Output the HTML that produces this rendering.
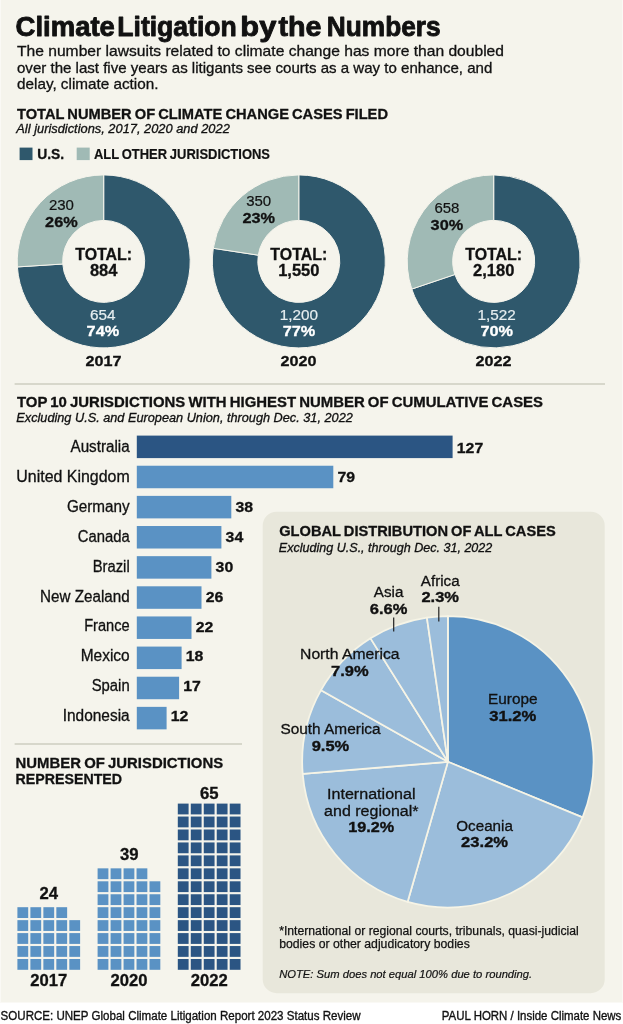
<!DOCTYPE html>
<html lang="en"><head><meta charset="utf-8"><title>Climate Litigation by the Numbers</title>
<style>
html,body{margin:0;padding:0;background:#fff}
svg{display:block}
text{font-family:"Liberation Sans",Arial,Helvetica,sans-serif}
</style></head><body>
<svg width="623" height="1024" viewBox="0 0 623 1024" fill="#111">
<rect x="0" y="0" width="623" height="1024" fill="#ffffff"/>
<rect x="0" y="0" width="623" height="1002.5" fill="#f5f4ec"/>
<rect x="0" y="0" width="1" height="1002.5" fill="#faf9f5"/>
<rect x="622" y="0" width="1" height="1002.5" fill="#faf9f5"/>
<text y="36" font-size="28" font-weight="700" stroke="#111" stroke-width="0.9" stroke-linejoin="round"><tspan x="15.6" textLength="99.3" lengthAdjust="spacingAndGlyphs">Climate</tspan> <tspan x="117.3" textLength="119.5" lengthAdjust="spacingAndGlyphs">Litigation</tspan> <tspan x="240.3" textLength="36" lengthAdjust="spacingAndGlyphs">by</tspan> <tspan x="278.4" textLength="43" lengthAdjust="spacingAndGlyphs">the</tspan> <tspan x="326.8" textLength="113.8" lengthAdjust="spacingAndGlyphs">Numbers</tspan></text>
<text x="17" y="56.3" font-size="15" textLength="487" lengthAdjust="spacingAndGlyphs" stroke="#111" stroke-width="0.3">The number lawsuits related to climate change has more than doubled</text>
<text x="17" y="72.7" font-size="15" textLength="475.3" lengthAdjust="spacingAndGlyphs" stroke="#111" stroke-width="0.3">over the last five years as litigants see courts as a way to enhance, and</text>
<text x="17" y="89" font-size="15" textLength="141.5" lengthAdjust="spacingAndGlyphs" stroke="#111" stroke-width="0.3">delay, climate action.</text>
<text x="17" y="118.6" font-size="15" font-weight="700" textLength="371" lengthAdjust="spacingAndGlyphs" word-spacing="-1" stroke="#111" stroke-width="0.3">TOTAL NUMBER OF CLIMATE CHANGE CASES FILED</text>
<text x="16.3" y="132.8" font-size="12.2" font-style="italic" textLength="213.5" lengthAdjust="spacingAndGlyphs" stroke="#111" stroke-width="0.3">All jurisdictions, 2017, 2020 and 2022</text>
<rect x="19.6" y="147.6" width="12.9" height="12.5" fill="#2f586c"/>
<text x="37.2" y="159" font-size="15" font-weight="700" textLength="27" lengthAdjust="spacingAndGlyphs" stroke="#111" stroke-width="0.3">U.S.</text>
<rect x="76.7" y="147.6" width="13" height="12.5" fill="#a0bab5"/>
<text x="94" y="159" font-size="15" font-weight="700" textLength="176" lengthAdjust="spacingAndGlyphs" word-spacing="-1" stroke="#111" stroke-width="0.2">ALL OTHER JURISDICTIONS</text>
<path d="M103.70,174.90A86.5,86.5 0 1 1 17.38,266.93L62.78,264.02A41,41 0 1 0 103.70,220.40Z" fill="#2f586c" stroke="#f5f4ec" stroke-width="1" stroke-linejoin="round"/>
<path d="M17.38,266.93A86.5,86.5 0 0 1 103.70,174.90L103.70,220.40A41,41 0 0 0 62.78,264.02Z" fill="#a0bab5" stroke="#f5f4ec" stroke-width="1" stroke-linejoin="round"/>
<text x="61.4" y="209.7" font-size="15" text-anchor="middle" stroke="#111" stroke-width="0.2">230</text>
<text x="61.4" y="226.6" font-size="15" font-weight="700" text-anchor="middle" textLength="32.6" lengthAdjust="spacingAndGlyphs" stroke="#111" stroke-width="0.3">26%</text>
<text x="103.7" y="259.7" font-size="16.5" font-weight="700" text-anchor="middle" textLength="57" lengthAdjust="spacingAndGlyphs" stroke="#111" stroke-width="0.3">TOTAL:</text>
<text x="103.7" y="276.4" font-size="16.5" font-weight="700" text-anchor="middle" stroke="#111" stroke-width="0.3">884</text>
<text x="102.7" y="319.5" font-size="15.3" text-anchor="middle" fill="#e6eef0" stroke="#e6eef0" stroke-width="0.2">654</text>
<text x="102.9" y="336.1" font-size="15" font-weight="700" text-anchor="middle" fill="#ffffff" textLength="32.6" lengthAdjust="spacingAndGlyphs" stroke="#ffffff" stroke-width="0.3">74%</text>
<text x="103.4" y="366" font-size="15.5" font-weight="700" text-anchor="middle" textLength="36" lengthAdjust="spacingAndGlyphs" stroke="#111" stroke-width="0.3">2017</text>
<path d="M298.80,174.90A86.5,86.5 0 1 1 213.30,248.30L258.27,255.19A41,41 0 1 0 298.80,220.40Z" fill="#2f586c" stroke="#f5f4ec" stroke-width="1" stroke-linejoin="round"/>
<path d="M213.30,248.30A86.5,86.5 0 0 1 298.80,174.90L298.80,220.40A41,41 0 0 0 258.27,255.19Z" fill="#a0bab5" stroke="#f5f4ec" stroke-width="1" stroke-linejoin="round"/>
<text x="258.7" y="206.4" font-size="15" text-anchor="middle" stroke="#111" stroke-width="0.2">350</text>
<text x="258.7" y="223.3" font-size="15" font-weight="700" text-anchor="middle" textLength="32.6" lengthAdjust="spacingAndGlyphs" stroke="#111" stroke-width="0.3">23%</text>
<text x="298.8" y="259.7" font-size="16.5" font-weight="700" text-anchor="middle" textLength="57" lengthAdjust="spacingAndGlyphs" stroke="#111" stroke-width="0.3">TOTAL:</text>
<text x="298.8" y="276.4" font-size="16.5" font-weight="700" text-anchor="middle" stroke="#111" stroke-width="0.3">1,550</text>
<text x="298.8" y="319.5" font-size="15.3" text-anchor="middle" fill="#e6eef0" stroke="#e6eef0" stroke-width="0.2">1,200</text>
<text x="299.0" y="336.1" font-size="15" font-weight="700" text-anchor="middle" fill="#ffffff" textLength="32.6" lengthAdjust="spacingAndGlyphs" stroke="#ffffff" stroke-width="0.3">77%</text>
<text x="298.5" y="366" font-size="15.5" font-weight="700" text-anchor="middle" textLength="36" lengthAdjust="spacingAndGlyphs" stroke="#111" stroke-width="0.3">2020</text>
<path d="M493.70,174.90A86.5,86.5 0 1 1 411.75,289.08L454.86,274.52A41,41 0 1 0 493.70,220.40Z" fill="#2f586c" stroke="#f5f4ec" stroke-width="1" stroke-linejoin="round"/>
<path d="M411.75,289.08A86.5,86.5 0 0 1 493.70,174.90L493.70,220.40A41,41 0 0 0 454.86,274.52Z" fill="#a0bab5" stroke="#f5f4ec" stroke-width="1" stroke-linejoin="round"/>
<text x="446.9" y="212.7" font-size="15" text-anchor="middle" stroke="#111" stroke-width="0.2">658</text>
<text x="446.9" y="229.6" font-size="15" font-weight="700" text-anchor="middle" textLength="32.6" lengthAdjust="spacingAndGlyphs" stroke="#111" stroke-width="0.3">30%</text>
<text x="493.7" y="259.7" font-size="16.5" font-weight="700" text-anchor="middle" textLength="57" lengthAdjust="spacingAndGlyphs" stroke="#111" stroke-width="0.3">TOTAL:</text>
<text x="493.7" y="276.4" font-size="16.5" font-weight="700" text-anchor="middle" stroke="#111" stroke-width="0.3">2,180</text>
<text x="496.59999999999997" y="319.5" font-size="15.3" text-anchor="middle" fill="#e6eef0" stroke="#e6eef0" stroke-width="0.2">1,522</text>
<text x="496.79999999999995" y="336.1" font-size="15" font-weight="700" text-anchor="middle" fill="#ffffff" textLength="32.6" lengthAdjust="spacingAndGlyphs" stroke="#ffffff" stroke-width="0.3">70%</text>
<text x="493.4" y="366" font-size="15.5" font-weight="700" text-anchor="middle" textLength="36" lengthAdjust="spacingAndGlyphs" stroke="#111" stroke-width="0.3">2022</text>
<rect x="14.6" y="383.1" width="590.4" height="1.8" fill="#d4d4c8"/>
<text x="17" y="407.4" font-size="15" font-weight="700" textLength="526" lengthAdjust="spacingAndGlyphs" word-spacing="-1" stroke="#111" stroke-width="0.3">TOP 10 JURISDICTIONS WITH HIGHEST NUMBER OF CUMULATIVE CASES</text>
<text x="16.3" y="422.2" font-size="12.2" font-style="italic" textLength="336.5" lengthAdjust="spacingAndGlyphs" stroke="#111" stroke-width="0.3">Excluding U.S. and European Union, through Dec. 31, 2022</text>
<rect x="136.8" y="435.6" width="315.8" height="22.5" fill="#2b5583"/>
<text x="129.7" y="452.2" font-size="15.8" text-anchor="end" textLength="59.2" lengthAdjust="spacingAndGlyphs" stroke="#111" stroke-width="0.3">Australia</text>
<text x="456.8" y="452.5" font-size="14.6" font-weight="700" textLength="26.400000000000002" lengthAdjust="spacingAndGlyphs" stroke="#111" stroke-width="0.3">127</text>
<rect x="136.8" y="465.74" width="196.5" height="22.5" fill="#5a92c4"/>
<text x="129.7" y="482.1" font-size="15.8" text-anchor="end" textLength="113.4" lengthAdjust="spacingAndGlyphs" stroke="#111" stroke-width="0.3">United Kingdom</text>
<text x="337.5" y="482.3" font-size="14.6" font-weight="700" textLength="17.6" lengthAdjust="spacingAndGlyphs" stroke="#111" stroke-width="0.3">79</text>
<rect x="136.8" y="495.88" width="94.5" height="22.5" fill="#5a92c4"/>
<text x="129.7" y="511.9" font-size="15.8" text-anchor="end" textLength="62.8" lengthAdjust="spacingAndGlyphs" stroke="#111" stroke-width="0.3">Germany</text>
<text x="235.5" y="512.2" font-size="14.6" font-weight="700" textLength="17.6" lengthAdjust="spacingAndGlyphs" stroke="#111" stroke-width="0.3">38</text>
<rect x="136.8" y="526.02" width="84.6" height="22.5" fill="#5a92c4"/>
<text x="129.7" y="541.8" font-size="15.8" text-anchor="end" textLength="52" lengthAdjust="spacingAndGlyphs" stroke="#111" stroke-width="0.3">Canada</text>
<text x="225.6" y="542.0" font-size="14.6" font-weight="700" textLength="17.6" lengthAdjust="spacingAndGlyphs" stroke="#111" stroke-width="0.3">34</text>
<rect x="136.8" y="556.16" width="74.6" height="22.5" fill="#5a92c4"/>
<text x="129.7" y="571.6" font-size="15.8" text-anchor="end" textLength="37" lengthAdjust="spacingAndGlyphs" stroke="#111" stroke-width="0.3">Brazil</text>
<text x="215.6" y="571.9" font-size="14.6" font-weight="700" textLength="17.6" lengthAdjust="spacingAndGlyphs" stroke="#111" stroke-width="0.3">30</text>
<rect x="136.8" y="586.3" width="64.7" height="22.5" fill="#5a92c4"/>
<text x="129.7" y="601.5" font-size="15.8" text-anchor="end" textLength="89.6" lengthAdjust="spacingAndGlyphs" stroke="#111" stroke-width="0.3">New Zealand</text>
<text x="205.7" y="601.7" font-size="14.6" font-weight="700" textLength="17.6" lengthAdjust="spacingAndGlyphs" stroke="#111" stroke-width="0.3">26</text>
<rect x="136.8" y="616.44" width="54.7" height="22.5" fill="#5a92c4"/>
<text x="129.7" y="631.4" font-size="15.8" text-anchor="end" textLength="45.5" lengthAdjust="spacingAndGlyphs" stroke="#111" stroke-width="0.3">France</text>
<text x="195.7" y="631.5" font-size="14.6" font-weight="700" textLength="17.6" lengthAdjust="spacingAndGlyphs" stroke="#111" stroke-width="0.3">22</text>
<rect x="136.8" y="646.58" width="44.8" height="22.5" fill="#5a92c4"/>
<text x="129.7" y="661.2" font-size="15.8" text-anchor="end" textLength="49" lengthAdjust="spacingAndGlyphs" stroke="#111" stroke-width="0.3">Mexico</text>
<text x="185.8" y="661.4" font-size="14.6" font-weight="700" textLength="17.6" lengthAdjust="spacingAndGlyphs" stroke="#111" stroke-width="0.3">18</text>
<rect x="136.8" y="676.72" width="42.3" height="22.5" fill="#5a92c4"/>
<text x="129.7" y="691.1" font-size="15.8" text-anchor="end" textLength="38" lengthAdjust="spacingAndGlyphs" stroke="#111" stroke-width="0.3">Spain</text>
<text x="183.3" y="691.2" font-size="14.6" font-weight="700" textLength="17.6" lengthAdjust="spacingAndGlyphs" stroke="#111" stroke-width="0.3">17</text>
<rect x="136.8" y="706.86" width="29.8" height="22.5" fill="#5a92c4"/>
<text x="129.7" y="720.9" font-size="15.8" text-anchor="end" textLength="67" lengthAdjust="spacingAndGlyphs" stroke="#111" stroke-width="0.3">Indonesia</text>
<text x="170.8" y="721.1" font-size="14.6" font-weight="700" textLength="17.6" lengthAdjust="spacingAndGlyphs" stroke="#111" stroke-width="0.3">12</text>
<rect x="262.7" y="511.7" width="342" height="481.5" fill="#e8e7db" rx="14"/>
<text x="279.2" y="536.2" font-size="15" font-weight="700" textLength="276.5" lengthAdjust="spacingAndGlyphs" word-spacing="-1" stroke="#111" stroke-width="0.3">GLOBAL DISTRIBUTION OF ALL CASES</text>
<text x="278.8" y="551.8" font-size="12.2" font-style="italic" textLength="213.5" lengthAdjust="spacingAndGlyphs" stroke="#111" stroke-width="0.3">Excluding U.S., through Dec. 31, 2022</text>
<path d="M447.9,761.8L447.90,616.10A145.7,145.7 0 0 1 582.57,817.40Z" fill="#5a92c4" stroke="#f6f4e6" stroke-width="1.75" stroke-linejoin="round"/>
<path d="M447.9,761.8L582.57,817.40A145.7,145.7 0 0 1 407.65,901.83Z" fill="#9bbddb" stroke="#f6f4e6" stroke-width="1.75" stroke-linejoin="round"/>
<path d="M447.9,761.8L407.65,901.83A145.7,145.7 0 0 1 302.71,773.93Z" fill="#9bbddb" stroke="#f6f4e6" stroke-width="1.75" stroke-linejoin="round"/>
<path d="M447.9,761.8L302.71,773.93A145.7,145.7 0 0 1 321.04,690.14Z" fill="#9bbddb" stroke="#f6f4e6" stroke-width="1.75" stroke-linejoin="round"/>
<path d="M447.9,761.8L321.04,690.14A145.7,145.7 0 0 1 370.54,638.34Z" fill="#9bbddb" stroke="#f6f4e6" stroke-width="1.75" stroke-linejoin="round"/>
<path d="M447.9,761.8L370.54,638.34A145.7,145.7 0 0 1 426.90,617.62Z" fill="#9bbddb" stroke="#f6f4e6" stroke-width="1.75" stroke-linejoin="round"/>
<path d="M447.9,761.8L426.90,617.62A145.7,145.7 0 0 1 447.90,616.10Z" fill="#9bbddb" stroke="#f6f4e6" stroke-width="1.75" stroke-linejoin="round"/>
<text x="512.8" y="704.1" font-size="15.2" text-anchor="middle" textLength="49.5" lengthAdjust="spacingAndGlyphs" stroke="#111" stroke-width="0.3">Europe</text>
<text x="512.8" y="720.7" font-size="14.9" font-weight="700" text-anchor="middle" textLength="47.2" lengthAdjust="spacingAndGlyphs" stroke="#111" stroke-width="0.35">31.2%</text>
<text x="484.6" y="830.7" font-size="15.2" text-anchor="middle" textLength="56.6" lengthAdjust="spacingAndGlyphs" stroke="#111" stroke-width="0.3">Oceania</text>
<text x="484.6" y="847.3" font-size="14.9" font-weight="700" text-anchor="middle" textLength="47" lengthAdjust="spacingAndGlyphs" stroke="#111" stroke-width="0.35">23.2%</text>
<text x="371.3" y="799.4" font-size="15.2" text-anchor="middle" textLength="88.6" lengthAdjust="spacingAndGlyphs" stroke="#111" stroke-width="0.3">International</text>
<text x="371.3" y="816" font-size="15.2" text-anchor="middle" textLength="94.4" lengthAdjust="spacingAndGlyphs" stroke="#111" stroke-width="0.3">and regional*</text>
<text x="371.3" y="832" font-size="14.9" font-weight="700" text-anchor="middle" textLength="46" lengthAdjust="spacingAndGlyphs" stroke="#111" stroke-width="0.35">19.2%</text>
<text x="330.5" y="734.2" font-size="15.2" text-anchor="middle" textLength="100.2" lengthAdjust="spacingAndGlyphs" stroke="#111" stroke-width="0.3">South America</text>
<text x="330.5" y="750.8" font-size="14.9" font-weight="700" text-anchor="middle" textLength="37.6" lengthAdjust="spacingAndGlyphs" stroke="#111" stroke-width="0.35">9.5%</text>
<text x="349.8" y="659.4" font-size="15.2" text-anchor="middle" textLength="99.5" lengthAdjust="spacingAndGlyphs" stroke="#111" stroke-width="0.3">North America</text>
<text x="349.8" y="676.0" font-size="14.9" font-weight="700" text-anchor="middle" textLength="37.6" lengthAdjust="spacingAndGlyphs" stroke="#111" stroke-width="0.35">7.9%</text>
<text x="388.6" y="596.8" font-size="15.2" text-anchor="middle" stroke="#111" stroke-width="0.3">Asia</text>
<text x="388.6" y="614.0" font-size="14.9" font-weight="700" text-anchor="middle" textLength="37.6" lengthAdjust="spacingAndGlyphs" stroke="#111" stroke-width="0.35">6.6%</text>
<text x="440.2" y="585.6" font-size="15.2" text-anchor="middle" textLength="38.8" lengthAdjust="spacingAndGlyphs" stroke="#111" stroke-width="0.3">Africa</text>
<text x="440.2" y="602.0" font-size="14.9" font-weight="700" text-anchor="middle" textLength="37.6" lengthAdjust="spacingAndGlyphs" stroke="#111" stroke-width="0.35">2.3%</text>
<path d="M393.7,617.5V631.5M438.8,606.8V621.6" stroke="#222" stroke-width="1.2" fill="none"/>
<text x="279.2" y="934.5" font-size="12.5" textLength="299.6" lengthAdjust="spacingAndGlyphs" stroke="#111" stroke-width="0.25">*International or regional courts, tribunals, quasi-judicial</text>
<text x="279.2" y="947.9" font-size="12.5" textLength="190.6" lengthAdjust="spacingAndGlyphs" stroke="#111" stroke-width="0.25">bodies or other adjudicatory bodies</text>
<text x="279.2" y="977.5" font-size="11.8" font-style="italic" textLength="253" lengthAdjust="spacingAndGlyphs" stroke="#111" stroke-width="0.2">NOTE: Sum does not equal 100% due to rounding.</text>
<rect x="14.6" y="743.1" width="227.4" height="1.8" fill="#d4d4c8"/>
<text x="15.6" y="767.5" font-size="15" font-weight="700" textLength="207.5" lengthAdjust="spacingAndGlyphs" word-spacing="-1" stroke="#111" stroke-width="0.3">NUMBER OF JURISDICTIONS</text>
<text x="15.6" y="784.2" font-size="15" font-weight="700" textLength="106.5" lengthAdjust="spacingAndGlyphs" stroke="#111" stroke-width="0.3">REPRESENTED</text>
<rect x="17.40" y="959.00" width="10.8" height="10.8" fill="#5a92c4"/>
<rect x="30.38" y="959.00" width="10.8" height="10.8" fill="#5a92c4"/>
<rect x="43.36" y="959.00" width="10.8" height="10.8" fill="#5a92c4"/>
<rect x="56.34" y="959.00" width="10.8" height="10.8" fill="#5a92c4"/>
<rect x="69.32" y="959.00" width="10.8" height="10.8" fill="#5a92c4"/>
<rect x="17.40" y="946.05" width="10.8" height="10.8" fill="#5a92c4"/>
<rect x="30.38" y="946.05" width="10.8" height="10.8" fill="#5a92c4"/>
<rect x="43.36" y="946.05" width="10.8" height="10.8" fill="#5a92c4"/>
<rect x="56.34" y="946.05" width="10.8" height="10.8" fill="#5a92c4"/>
<rect x="69.32" y="946.05" width="10.8" height="10.8" fill="#5a92c4"/>
<rect x="17.40" y="933.10" width="10.8" height="10.8" fill="#5a92c4"/>
<rect x="30.38" y="933.10" width="10.8" height="10.8" fill="#5a92c4"/>
<rect x="43.36" y="933.10" width="10.8" height="10.8" fill="#5a92c4"/>
<rect x="56.34" y="933.10" width="10.8" height="10.8" fill="#5a92c4"/>
<rect x="69.32" y="933.10" width="10.8" height="10.8" fill="#5a92c4"/>
<rect x="17.40" y="920.15" width="10.8" height="10.8" fill="#5a92c4"/>
<rect x="30.38" y="920.15" width="10.8" height="10.8" fill="#5a92c4"/>
<rect x="43.36" y="920.15" width="10.8" height="10.8" fill="#5a92c4"/>
<rect x="56.34" y="920.15" width="10.8" height="10.8" fill="#5a92c4"/>
<rect x="69.32" y="920.15" width="10.8" height="10.8" fill="#5a92c4"/>
<rect x="17.40" y="907.20" width="10.8" height="10.8" fill="#5a92c4"/>
<rect x="30.38" y="907.20" width="10.8" height="10.8" fill="#5a92c4"/>
<rect x="43.36" y="907.20" width="10.8" height="10.8" fill="#5a92c4"/>
<rect x="56.34" y="907.20" width="10.8" height="10.8" fill="#5a92c4"/>
<rect x="97.60" y="959.00" width="10.8" height="10.8" fill="#5a92c4"/>
<rect x="110.58" y="959.00" width="10.8" height="10.8" fill="#5a92c4"/>
<rect x="123.56" y="959.00" width="10.8" height="10.8" fill="#5a92c4"/>
<rect x="136.54" y="959.00" width="10.8" height="10.8" fill="#5a92c4"/>
<rect x="149.52" y="959.00" width="10.8" height="10.8" fill="#5a92c4"/>
<rect x="97.60" y="946.05" width="10.8" height="10.8" fill="#5a92c4"/>
<rect x="110.58" y="946.05" width="10.8" height="10.8" fill="#5a92c4"/>
<rect x="123.56" y="946.05" width="10.8" height="10.8" fill="#5a92c4"/>
<rect x="136.54" y="946.05" width="10.8" height="10.8" fill="#5a92c4"/>
<rect x="149.52" y="946.05" width="10.8" height="10.8" fill="#5a92c4"/>
<rect x="97.60" y="933.10" width="10.8" height="10.8" fill="#5a92c4"/>
<rect x="110.58" y="933.10" width="10.8" height="10.8" fill="#5a92c4"/>
<rect x="123.56" y="933.10" width="10.8" height="10.8" fill="#5a92c4"/>
<rect x="136.54" y="933.10" width="10.8" height="10.8" fill="#5a92c4"/>
<rect x="149.52" y="933.10" width="10.8" height="10.8" fill="#5a92c4"/>
<rect x="97.60" y="920.15" width="10.8" height="10.8" fill="#5a92c4"/>
<rect x="110.58" y="920.15" width="10.8" height="10.8" fill="#5a92c4"/>
<rect x="123.56" y="920.15" width="10.8" height="10.8" fill="#5a92c4"/>
<rect x="136.54" y="920.15" width="10.8" height="10.8" fill="#5a92c4"/>
<rect x="149.52" y="920.15" width="10.8" height="10.8" fill="#5a92c4"/>
<rect x="97.60" y="907.20" width="10.8" height="10.8" fill="#5a92c4"/>
<rect x="110.58" y="907.20" width="10.8" height="10.8" fill="#5a92c4"/>
<rect x="123.56" y="907.20" width="10.8" height="10.8" fill="#5a92c4"/>
<rect x="136.54" y="907.20" width="10.8" height="10.8" fill="#5a92c4"/>
<rect x="149.52" y="907.20" width="10.8" height="10.8" fill="#5a92c4"/>
<rect x="97.60" y="894.25" width="10.8" height="10.8" fill="#5a92c4"/>
<rect x="110.58" y="894.25" width="10.8" height="10.8" fill="#5a92c4"/>
<rect x="123.56" y="894.25" width="10.8" height="10.8" fill="#5a92c4"/>
<rect x="136.54" y="894.25" width="10.8" height="10.8" fill="#5a92c4"/>
<rect x="149.52" y="894.25" width="10.8" height="10.8" fill="#5a92c4"/>
<rect x="97.60" y="881.30" width="10.8" height="10.8" fill="#5a92c4"/>
<rect x="110.58" y="881.30" width="10.8" height="10.8" fill="#5a92c4"/>
<rect x="123.56" y="881.30" width="10.8" height="10.8" fill="#5a92c4"/>
<rect x="136.54" y="881.30" width="10.8" height="10.8" fill="#5a92c4"/>
<rect x="149.52" y="881.30" width="10.8" height="10.8" fill="#5a92c4"/>
<rect x="97.60" y="868.35" width="10.8" height="10.8" fill="#5a92c4"/>
<rect x="110.58" y="868.35" width="10.8" height="10.8" fill="#5a92c4"/>
<rect x="123.56" y="868.35" width="10.8" height="10.8" fill="#5a92c4"/>
<rect x="136.54" y="868.35" width="10.8" height="10.8" fill="#5a92c4"/>
<rect x="177.80" y="959.00" width="10.8" height="10.8" fill="#2b5583"/>
<rect x="190.78" y="959.00" width="10.8" height="10.8" fill="#2b5583"/>
<rect x="203.76" y="959.00" width="10.8" height="10.8" fill="#2b5583"/>
<rect x="216.74" y="959.00" width="10.8" height="10.8" fill="#2b5583"/>
<rect x="229.72" y="959.00" width="10.8" height="10.8" fill="#2b5583"/>
<rect x="177.80" y="946.05" width="10.8" height="10.8" fill="#2b5583"/>
<rect x="190.78" y="946.05" width="10.8" height="10.8" fill="#2b5583"/>
<rect x="203.76" y="946.05" width="10.8" height="10.8" fill="#2b5583"/>
<rect x="216.74" y="946.05" width="10.8" height="10.8" fill="#2b5583"/>
<rect x="229.72" y="946.05" width="10.8" height="10.8" fill="#2b5583"/>
<rect x="177.80" y="933.10" width="10.8" height="10.8" fill="#2b5583"/>
<rect x="190.78" y="933.10" width="10.8" height="10.8" fill="#2b5583"/>
<rect x="203.76" y="933.10" width="10.8" height="10.8" fill="#2b5583"/>
<rect x="216.74" y="933.10" width="10.8" height="10.8" fill="#2b5583"/>
<rect x="229.72" y="933.10" width="10.8" height="10.8" fill="#2b5583"/>
<rect x="177.80" y="920.15" width="10.8" height="10.8" fill="#2b5583"/>
<rect x="190.78" y="920.15" width="10.8" height="10.8" fill="#2b5583"/>
<rect x="203.76" y="920.15" width="10.8" height="10.8" fill="#2b5583"/>
<rect x="216.74" y="920.15" width="10.8" height="10.8" fill="#2b5583"/>
<rect x="229.72" y="920.15" width="10.8" height="10.8" fill="#2b5583"/>
<rect x="177.80" y="907.20" width="10.8" height="10.8" fill="#2b5583"/>
<rect x="190.78" y="907.20" width="10.8" height="10.8" fill="#2b5583"/>
<rect x="203.76" y="907.20" width="10.8" height="10.8" fill="#2b5583"/>
<rect x="216.74" y="907.20" width="10.8" height="10.8" fill="#2b5583"/>
<rect x="229.72" y="907.20" width="10.8" height="10.8" fill="#2b5583"/>
<rect x="177.80" y="894.25" width="10.8" height="10.8" fill="#2b5583"/>
<rect x="190.78" y="894.25" width="10.8" height="10.8" fill="#2b5583"/>
<rect x="203.76" y="894.25" width="10.8" height="10.8" fill="#2b5583"/>
<rect x="216.74" y="894.25" width="10.8" height="10.8" fill="#2b5583"/>
<rect x="229.72" y="894.25" width="10.8" height="10.8" fill="#2b5583"/>
<rect x="177.80" y="881.30" width="10.8" height="10.8" fill="#2b5583"/>
<rect x="190.78" y="881.30" width="10.8" height="10.8" fill="#2b5583"/>
<rect x="203.76" y="881.30" width="10.8" height="10.8" fill="#2b5583"/>
<rect x="216.74" y="881.30" width="10.8" height="10.8" fill="#2b5583"/>
<rect x="229.72" y="881.30" width="10.8" height="10.8" fill="#2b5583"/>
<rect x="177.80" y="868.35" width="10.8" height="10.8" fill="#2b5583"/>
<rect x="190.78" y="868.35" width="10.8" height="10.8" fill="#2b5583"/>
<rect x="203.76" y="868.35" width="10.8" height="10.8" fill="#2b5583"/>
<rect x="216.74" y="868.35" width="10.8" height="10.8" fill="#2b5583"/>
<rect x="229.72" y="868.35" width="10.8" height="10.8" fill="#2b5583"/>
<rect x="177.80" y="855.40" width="10.8" height="10.8" fill="#2b5583"/>
<rect x="190.78" y="855.40" width="10.8" height="10.8" fill="#2b5583"/>
<rect x="203.76" y="855.40" width="10.8" height="10.8" fill="#2b5583"/>
<rect x="216.74" y="855.40" width="10.8" height="10.8" fill="#2b5583"/>
<rect x="229.72" y="855.40" width="10.8" height="10.8" fill="#2b5583"/>
<rect x="177.80" y="842.45" width="10.8" height="10.8" fill="#2b5583"/>
<rect x="190.78" y="842.45" width="10.8" height="10.8" fill="#2b5583"/>
<rect x="203.76" y="842.45" width="10.8" height="10.8" fill="#2b5583"/>
<rect x="216.74" y="842.45" width="10.8" height="10.8" fill="#2b5583"/>
<rect x="229.72" y="842.45" width="10.8" height="10.8" fill="#2b5583"/>
<rect x="177.80" y="829.50" width="10.8" height="10.8" fill="#2b5583"/>
<rect x="190.78" y="829.50" width="10.8" height="10.8" fill="#2b5583"/>
<rect x="203.76" y="829.50" width="10.8" height="10.8" fill="#2b5583"/>
<rect x="216.74" y="829.50" width="10.8" height="10.8" fill="#2b5583"/>
<rect x="229.72" y="829.50" width="10.8" height="10.8" fill="#2b5583"/>
<rect x="177.80" y="816.55" width="10.8" height="10.8" fill="#2b5583"/>
<rect x="190.78" y="816.55" width="10.8" height="10.8" fill="#2b5583"/>
<rect x="203.76" y="816.55" width="10.8" height="10.8" fill="#2b5583"/>
<rect x="216.74" y="816.55" width="10.8" height="10.8" fill="#2b5583"/>
<rect x="229.72" y="816.55" width="10.8" height="10.8" fill="#2b5583"/>
<rect x="177.80" y="803.60" width="10.8" height="10.8" fill="#2b5583"/>
<rect x="190.78" y="803.60" width="10.8" height="10.8" fill="#2b5583"/>
<rect x="203.76" y="803.60" width="10.8" height="10.8" fill="#2b5583"/>
<rect x="216.74" y="803.60" width="10.8" height="10.8" fill="#2b5583"/>
<rect x="229.72" y="803.60" width="10.8" height="10.8" fill="#2b5583"/>
<text x="48.7" y="898.5" font-size="15.6" font-weight="700" text-anchor="middle" textLength="18.6" lengthAdjust="spacingAndGlyphs" stroke="#111" stroke-width="0.3">24</text>
<text x="129.2" y="860" font-size="15.6" font-weight="700" text-anchor="middle" textLength="18.6" lengthAdjust="spacingAndGlyphs" stroke="#111" stroke-width="0.3">39</text>
<text x="209.2" y="799" font-size="15.6" font-weight="700" text-anchor="middle" textLength="18.6" lengthAdjust="spacingAndGlyphs" stroke="#111" stroke-width="0.3">65</text>
<text x="48.7" y="986.1" font-size="15.8" font-weight="700" text-anchor="middle" textLength="37" lengthAdjust="spacingAndGlyphs" stroke="#111" stroke-width="0.3">2017</text>
<text x="129.1" y="986.1" font-size="15.8" font-weight="700" text-anchor="middle" textLength="37" lengthAdjust="spacingAndGlyphs" stroke="#111" stroke-width="0.3">2020</text>
<text x="209.3" y="986.1" font-size="15.8" font-weight="700" text-anchor="middle" textLength="37" lengthAdjust="spacingAndGlyphs" stroke="#111" stroke-width="0.3">2022</text>
<text x="0.6" y="1019.5" font-size="12.5" textLength="360" lengthAdjust="spacingAndGlyphs" stroke="#111" stroke-width="0.35">SOURCE: UNEP Global Climate Litigation Report 2023 Status Review</text>
<text x="441.8" y="1019.5" font-size="12.5" textLength="179.5" lengthAdjust="spacingAndGlyphs" stroke="#111" stroke-width="0.35">PAUL HORN / Inside Climate News</text>
</svg>
</body></html>
